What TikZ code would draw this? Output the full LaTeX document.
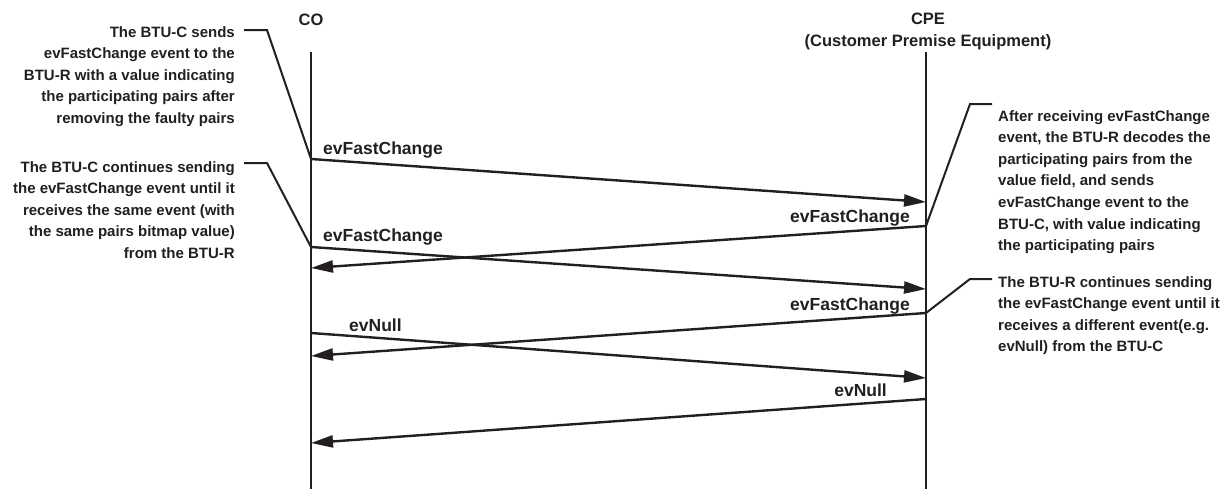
\documentclass[tikz,border=0pt]{standalone}
\usepackage{fontspec}
\setmainfont{Liberation Sans}
\usetikzlibrary{arrows.meta}
\definecolor{ink}{RGB}{35,31,32}
\begin{document}
\begin{tikzpicture}[x=1pt,y=-1pt,
  lifeline/.style={draw=ink,line width=2pt},
  msg/.style={draw=ink,line width=2.4pt,-{Triangle[length=22pt,width=12pt]}},
  leader/.style={draw=ink,line width=2pt},
  note/.style={font=\fontsize{15}{21.6}\selectfont\bfseries,text=ink,inner sep=0pt},
  lbl/.style={font=\fontsize{17.5}{20}\selectfont\bfseries,text=ink,inner sep=0pt},
  head/.style={font=\fontsize{16.5}{22}\selectfont\bfseries,text=ink,inner sep=0pt,align=center}]
\useasboundingbox (0,0) rectangle (1231,488);

% headers
\node[head] (co) at (311,20) {CO};
\node[head] (cpe) at (928,31) {CPE\\(Customer Premise Equipment)};

% lifelines
\coordinate (coT) at (311,52);
\coordinate (coB) at (311,490);
\coordinate (cpeT) at (926,52);
\coordinate (cpeB) at (926,490);
\draw[lifeline] (coT) -- (coB);
\draw[lifeline] (cpeT) -- (cpeB);

% message end points
\coordinate (m1s) at (311,159);  \coordinate (m1e) at (926,202);
\coordinate (m2s) at (926,226);  \coordinate (m2e) at (311,268);
\coordinate (m3s) at (311,247);  \coordinate (m3e) at (926,289);
\coordinate (m4s) at (926,313);  \coordinate (m4e) at (311,356);
\coordinate (m5s) at (311,333);  \coordinate (m5e) at (926,378);
\coordinate (m6s) at (926,399);  \coordinate (m6e) at (311,443);

% notes
\node[note,align=right,anchor=north east] (n1) at (235,26) {The BTU-C sends\\evFastChange event to the\\BTU-R with a value indicating\\the participating pairs after\\removing the faulty pairs};
\node[note,align=right,anchor=north east] (n2) at (235,161) {The BTU-C continues sending\\the evFastChange event until it\\receives the same event (with\\the same pairs bitmap value)\\from the BTU-R};
\node[note,align=left,anchor=north west] (n3) at (998,110) {After receiving evFastChange\\event, the BTU-R decodes the\\participating pairs from the\\value field, and sends\\evFastChange event to the\\BTU-C, with value indicating\\the participating pairs};
\node[note,align=left,anchor=north west] (n4) at (998,276) {The BTU-R continues sending\\the evFastChange event until it\\receives a different event(e.g.\\evNull) from the BTU-C};

% leaders
\coordinate (n1a) at (244,30);  \coordinate (n1b) at (267,30);
\coordinate (n2a) at (244,163); \coordinate (n2b) at (267,163);
\coordinate (n3a) at (992,104); \coordinate (n3b) at (970,104);
\coordinate (n4a) at (992,279); \coordinate (n4b) at (970,279);
\draw[leader] (n1a) -- (n1b) -- (m1s);
\draw[leader] (n2a) -- (n2b) -- (m3s);
\draw[leader] (n3a) -- (n3b) -- (m2s);
\draw[leader] (n4a) -- (n4b) -- (m4s);

% messages
\draw[msg] (m1s) -- (m1e);
\draw[msg] (m2s) -- (m2e);
\draw[msg] (m3s) -- (m3e);
\draw[msg] (m4s) -- (m4e);
\draw[msg] (m5s) -- (m5e);
\draw[msg] (m6s) -- (m6e);

% labels
\node[lbl,anchor=west] (l1) at (323,150) {evFastChange};
\node[lbl,anchor=east] (l2) at (910,218) {evFastChange};
\node[lbl,anchor=west] (l3) at (323,237) {evFastChange};
\node[lbl,anchor=east] (l4) at (910,306) {evFastChange};
\node[lbl,anchor=west] (l5) at (349,325) {evNull};
\node[lbl,anchor=east] (l6) at (887,390) {evNull};
\end{tikzpicture}
\end{document}
